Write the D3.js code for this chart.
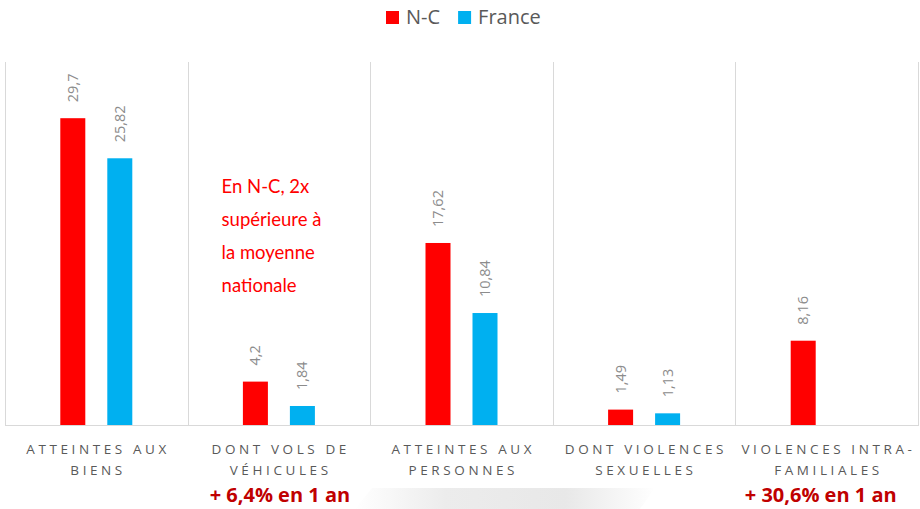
<!DOCTYPE html>
<html>
<head>
<meta charset="utf-8">
<script src="https://cdn.jsdelivr.net/npm/d3@7/dist/d3.min.js"></script>
<style>
  body { margin: 0; background: #fff; }
  svg { display: block; font-family: "Open Sans", sans-serif; }
</style>
</head>
<body>
<div id="chart"></div>
<script>
// Data
var categories = ["ATTEINTES AUX|BIENS", "DONT VOLS DE|VÉHICULES", "ATTEINTES AUX|PERSONNES", "DONT VIOLENCES|SEXUELLES", "VIOLENCES INTRA-|FAMILIALES"];
var valuesNC = [29.7, 4.2, 17.62, 1.49, 8.16];
var valuesFrance = [25.82, 1.84, 10.84, 1.13, null];
var seriesNames = ["N-C", "France"];
var seriesColors = ["#ff0000", "#00b0f0"];
var noteLines = ["En N-C, 2x", "supérieure à", "la moyenne", "nationale"];
var evolutions = [{cat: 1, text: "+ 6,4% en 1 an"}, {cat: 4, text: "+ 30,6% en 1 an"}];

// Dimensions
var W = 920, H = 509;
var plotLeft = 5, plotRight = 918, plotTop = 62, base = 425;

var svg = d3.select("#chart").append("svg")
  .attr("width", W)
  .attr("height", H);

// faint background decoration at the bottom
var defs = svg.append("defs");
var grad = defs.append("linearGradient").attr("id", "deco").attr("x1", 0).attr("x2", 1);
grad.append("stop").attr("offset", 0).attr("stop-color", "#ffffff");
grad.append("stop").attr("offset", 0.3).attr("stop-color", "#ececec");
grad.append("stop").attr("offset", 0.7).attr("stop-color", "#e8e8e8");
grad.append("stop").attr("offset", 1).attr("stop-color", "#ffffff");
svg.append("path")
  .attr("d", "M355,509 L372,488 L655,488 L640,509 Z")
  .attr("fill", "url(#deco)");

// Scales
var x = d3.scaleBand().domain(d3.range(categories.length)).range([plotLeft, plotRight]);
var bw = x.bandwidth();
var xSub = d3.scaleBand().domain([0, 1])
  .range([bw / 2 - 36, bw / 2 + 36])
  .paddingInner(0.468).paddingOuter(0);
var y = d3.scaleLinear().domain([0, 35]).range([base, base - 35 * 10.33]);

// Grid lines (category separators)
var g = svg.append("g");
d3.range(categories.length + 1).forEach(function(i) {
  var gx = Math.round(plotLeft + i * bw) + 0.5;
  g.append("line")
    .attr("x1", gx).attr("x2", gx)
    .attr("y1", plotTop).attr("y2", base)
    .attr("stroke", "#d9d9d9").attr("stroke-width", 1);
});
g.append("line")
  .attr("x1", plotLeft).attr("x2", plotRight + 1)
  .attr("y1", base + 0.5).attr("y2", base + 0.5)
  .attr("stroke", "#d9d9d9").attr("stroke-width", 1.2);

// Bars + labels
var allSeries = [valuesNC, valuesFrance];
allSeries.forEach(function(vals, s) {
  var data = vals.map(function(v, i) { return {i: i, v: v}; }).filter(function(d) { return d.v != null; });
  g.selectAll(".bar" + s).data(data).enter().append("rect")
    .attr("class", "bar" + s)
    .attr("x", function(d) { return x(d.i) + xSub(s); })
    .attr("y", function(d) { return y(d.v); })
    .attr("width", xSub.bandwidth())
    .attr("height", function(d) { return base - y(d.v); })
    .attr("fill", seriesColors[s]);

  g.selectAll(".lbl" + s).data(data).enter().append("text")
    .attr("class", "lbl" + s)
    .attr("transform", function(d) {
      var cx = x(d.i) + xSub(s) + xSub.bandwidth() / 2 + 5;
      return "translate(" + cx + "," + (y(d.v) - 16) + ") rotate(-90)";
    })
    .attr("text-anchor", "start")
    .attr("font-size", 14.5)
    .attr("fill", "#8c8c8c")
    .text(function(d) { return String(d.v).replace(".", ","); });
});

// Category labels
categories.forEach(function(c, i) {
  var lines = c.split("|");
  var t = svg.append("text")
    .attr("text-anchor", "middle")
    .attr("font-size", 13.5)
    .attr("letter-spacing", "3.6px")
    .attr("fill", "#595959");
  lines.forEach(function(l, k) {
    t.append("tspan")
      .attr("x", x(i) + bw / 2 + 1.8)
      .attr("y", 454 + k * 21)
      .text(l);
  });
});

// Red note
var note = svg.append("text")
  .attr("font-family", "Lato, sans-serif")
  .attr("font-size", 18.5)
  .attr("fill", "#ff0000");
noteLines.forEach(function(l, k) {
  note.append("tspan").attr("x", x(1) + 34).attr("y", 193 + k * 33).text(l);
});

// Evolution annotations
evolutions.forEach(function(e) {
  svg.append("text")
    .attr("x", x(e.cat) + bw / 2 + (e.cat === 4 ? -6 : 1))
    .attr("y", 502)
    .attr("text-anchor", "middle")
    .attr("font-size", 20)
    .attr("font-weight", "bold")
    .attr("fill", "#c00000")
    .text(e.text);
});

// Legend
var legend = svg.append("g").attr("transform", "translate(386,0)");
var lx = 0;
seriesNames.forEach(function(n, s) {
  legend.append("rect")
    .attr("x", lx).attr("y", 11)
    .attr("width", 13).attr("height", 13)
    .attr("fill", seriesColors[s]);
  var tx = legend.append("text")
    .attr("x", lx + 20).attr("y", 24)
    .attr("font-size", 20)
    .attr("fill", "#595959")
    .text(n);
  lx += 20 + tx.node().getComputedTextLength() + 18;
});
</script>
</body>
</html>
